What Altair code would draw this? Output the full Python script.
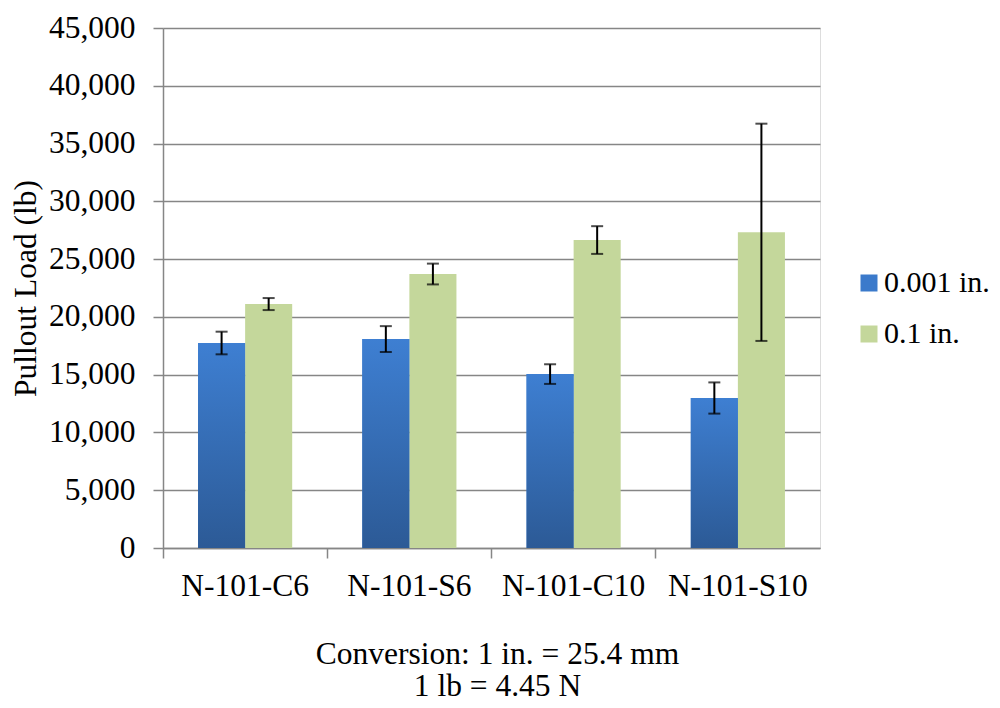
import altair as alt
import pandas as pd

categories = ["N-101-C6", "N-101-S6", "N-101-C10", "N-101-S10"]
series = ["0.001 in.", "0.1 in."]
load_0001 = [17740, 18080, 15050, 12980]
err_0001 = [980, 1120, 850, 1350]
load_01 = [21110, 23710, 26650, 27320]
err_01 = [520, 900, 1200, 9400]
y_ticks = [0, 5000, 10000, 15000, 20000, 25000, 30000, 35000, 40000, 45000]

rows = []
for i, c in enumerate(categories):
    rows.append({"cat": c, "series": series[0], "load": load_0001[i],
                 "lo": load_0001[i] - err_0001[i], "hi": load_0001[i] + err_0001[i]})
    rows.append({"cat": c, "series": series[1], "load": load_01[i],
                 "lo": load_01[i] - err_01[i], "hi": load_01[i] + err_01[i]})
df = pd.DataFrame(rows)

FONT = "Liberation Serif"
FS = 31.5
BLUE = "#3b7acb"
GREEN = "#c4d79b"
GRAY = "#868686"

x_axis = alt.Axis(labelAngle=0, bandPosition=0, tickSize=10, tickColor=GRAY,
                  domainColor=GRAY, domainWidth=1.5, tickWidth=1.5,
                  labelFont=FONT, labelFontSize=FS, labelColor="black",
                  labelPadding=12, grid=False, labelBound=False)
y_axis = alt.Axis(values=y_ticks, format=",.0f", tickSize=10, tickColor=GRAY,
                  tickWidth=1.5, domainColor=GRAY, domainWidth=1.5,
                  gridColor=GRAY, gridWidth=1.5,
                  labelFont=FONT, labelFontSize=FS, labelColor="black",
                  labelPadding=18, titleFont=FONT, titleFontSize=FS,
                  titleFontWeight="normal", titleColor="black", titlePadding=6)

x_enc = alt.X("cat:N", sort=categories, title=None,
              scale=alt.Scale(paddingInner=0, paddingOuter=0), axis=x_axis)
xoff = alt.XOffset("series:N", sort=series,
                   scale=alt.Scale(paddingOuter=0.745, paddingInner=0.0))
y_scale = alt.Scale(domain=[0, 45000], nice=False)


def yq(field):
    return alt.Y(field, scale=y_scale, title="Pullout Load (lb)", axis=y_axis)


base = alt.Chart(df)

bars = base.mark_bar().encode(
    x=x_enc, xOffset=xoff, y=yq("load:Q"),
    color=alt.Color("series:N", sort=series,
                    scale=alt.Scale(domain=series, range=[BLUE, GREEN]),
                    legend=alt.Legend(title=None, orient="none", legendX=691, legendY=240,
                                      labelFont=FONT, labelFontSize=30, labelColor="black",
                                      symbolType="square", symbolSize=289, symbolStrokeWidth=0,
                                      rowPadding=21, labelOffset=0, labelLimit=200)),
)

grad = alt.Gradient(gradient="linear", x1=0, x2=0, y1=0, y2=1,
                    stops=[alt.GradientStop(color="#3e7fd2", offset=0),
                           alt.GradientStop(color="#2c5a96", offset=1)])
blue_bars = base.transform_filter(alt.datum.series == series[0]).mark_bar(color=grad).encode(
    x=x_enc, xOffset=xoff, y=yq("load:Q"),
)

err_rule = base.mark_rule(color="black", strokeWidth=2).encode(
    x=x_enc, xOffset=xoff, y=yq("lo:Q"), y2="hi:Q",
)
cap_lo = base.mark_tick(color="black", thickness=2, size=12, orient="horizontal").encode(
    x=x_enc, xOffset=xoff, y=yq("lo:Q"),
)
cap_hi = base.mark_tick(color="black", thickness=2, size=12, orient="horizontal").encode(
    x=x_enc, xOffset=xoff, y=yq("hi:Q"),
)

chart = alt.layer(bars, blue_bars, err_rule, cap_lo, cap_hi).properties(
    width=657, height=520,
    autosize=alt.AutoSizeParams(type="none"),
    padding={"left": 155, "top": 20, "right": 172, "bottom": 152},
    title=alt.TitleParams(text=["Conversion: 1 in. = 25.4 mm", "1 lb = 4.45 N"],
                          orient="bottom", anchor="middle", font=FONT, fontSize=FS,
                          fontWeight="normal", color="black", lineHeight=32, offset=37, dx=6),
).configure_view(stroke=None).configure(background="white")

chart.save("out.html", embed_options={"renderer": "svg", "actions": False})
